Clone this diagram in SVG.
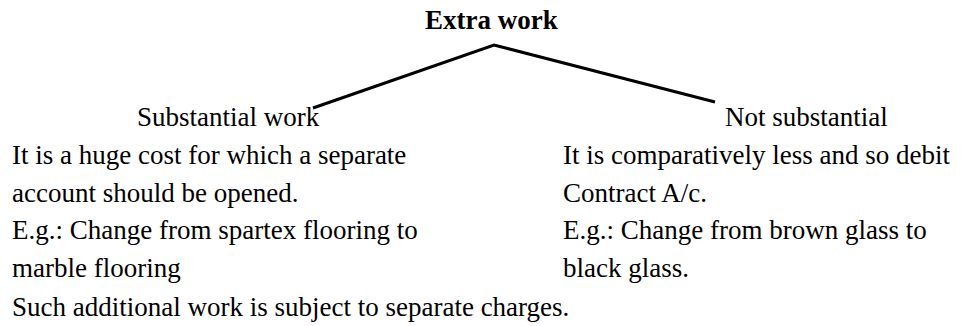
<svg xmlns="http://www.w3.org/2000/svg" width="967" height="326" viewBox="0 0 967 326">
<style>
text{font-family:"Liberation Serif","Times New Roman",serif;font-size:27px;fill:#000}
.b{font-weight:bold}
.c{stroke:#000;stroke-width:3;fill:none}
</style>
<rect width="967" height="326" fill="#fff"/>
<g id="root"><text class="b" x="425" y="29">Extra work</text></g>
<g id="connectors">
<polyline class="c" points="313,108 494,45 715,102"/>
</g>
<g id="left">
<text x="137" y="126">Substantial work</text>
<text x="12" y="164">It is a huge cost for which a separate</text>
<text x="12" y="202">account should be opened.</text>
<text x="12" y="239">E.g.: Change from spartex flooring to</text>
<text x="12" y="277">marble flooring</text>
</g>
<g id="right">
<text x="725" y="126">Not substantial</text>
<text x="563" y="164">It is comparatively less and so debit</text>
<text x="563" y="202">Contract A/c.</text>
<text x="563" y="239">E.g.: Change from brown glass to</text>
<text x="563" y="277">black glass.</text>
</g>
<g id="footer"><text x="12" y="316">Such additional work is subject to separate charges.</text></g>
</svg>
